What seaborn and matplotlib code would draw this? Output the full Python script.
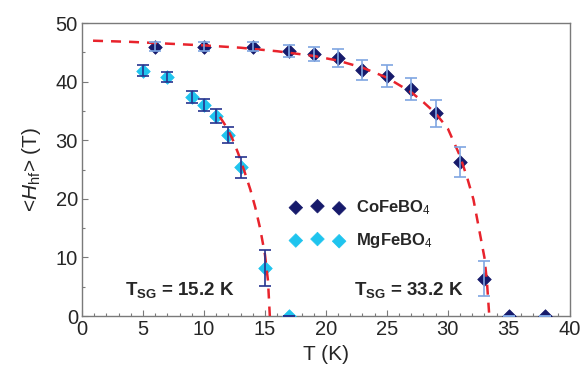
import matplotlib
matplotlib.use("Agg")
import matplotlib.pyplot as plt
from matplotlib.ticker import MultipleLocator
import seaborn as sns
import pandas as pd

# ---- data ----
co_T = [6, 10, 14, 17, 19, 21, 23, 25, 27, 29, 31, 33, 35, 38]
co_H = [46.0, 46.0, 46.0, 45.2, 44.8, 44.0, 42.0, 41.0, 38.7, 34.6, 26.3, 6.4, 0.0, 0.0]
co_err = [0.8, 0.8, 0.8, 1.0, 1.2, 1.5, 1.7, 1.9, 1.9, 2.3, 2.5, 3.0, 0.0, 0.0]

mg_T = [5, 7, 9, 10, 11, 12, 13, 15, 17]
mg_H = [41.9, 40.8, 37.4, 36.0, 34.1, 30.9, 25.4, 8.2, 0.0]
mg_err = [0.9, 0.9, 1.0, 1.0, 1.2, 1.3, 1.8, 3.1, 0.0]

co_fit_T = [0.9, 4, 7, 10, 13, 16, 19, 21, 23, 25, 27, 28, 29, 30, 31, 31.6, 32.1, 32.5, 33.0, 33.2, 33.4]
co_fit_H = [47.0, 46.8, 46.5, 46.2, 45.8, 45.2, 44.4, 43.6, 42.4, 40.7, 38.2, 36.5, 34.6, 32.0, 27.3, 23.5, 19.9, 15.5, 10.0, 6.0, 0.0]

mg_fit_T = [11.3, 11.8, 12.3, 12.8, 13.3, 13.8, 14.2, 14.6, 15.0, 15.25, 15.4]
mg_fit_H = [34.0, 32.4, 30.4, 27.8, 24.8, 21.6, 18.6, 15.0, 10.5, 6.0, 0.0]

labels = ["CoFeBO$_4$", "MgFeBO$_4$"]
tsg_labels = ["T$_{\\mathbf{SG}}$ = 15.2 K", "T$_{\\mathbf{SG}}$ = 33.2 K"]

# ---- styling ----
sns.set_style("white")
plt.rcParams['font.family'] = ['Liberation Sans', 'DejaVu Sans']
plt.rcParams['mathtext.fontset'] = 'custom'
plt.rcParams['mathtext.rm'] = 'Liberation Sans'
plt.rcParams['mathtext.it'] = 'Liberation Sans:italic'
plt.rcParams['mathtext.bf'] = 'Liberation Sans:bold'

navy = "#161a6b"
cyan = "#1fc4ee"
light_err = "#7fa6e2"
dark_err = "#26338f"
red = "#e8232c"
spine_c = "#7a7a7a"

fig = plt.figure(figsize=(5.82, 3.79), dpi=100)
ax = fig.add_axes([0.141, 0.166, 0.838, 0.773])

co_df = pd.DataFrame({"T": co_T, "H": co_H})
mg_df = pd.DataFrame({"T": mg_T, "H": mg_H})
cofit = pd.DataFrame({"T": co_fit_T, "H": co_fit_H})
mgfit = pd.DataFrame({"T": mg_fit_T, "H": mg_fit_H})

sns.scatterplot(data=co_df, x="T", y="H", marker="D", s=48, color=navy,
                edgecolor=navy, linewidth=0.5, ax=ax, label=labels[0], zorder=3)
sns.scatterplot(data=mg_df, x="T", y="H", marker="D", s=48, color=cyan,
                edgecolor=cyan, linewidth=0.5, ax=ax, label=labels[1], zorder=3)

sns.lineplot(data=cofit, x="T", y="H", color=red, linestyle=(0, (4, 3.2)),
             linewidth=1.8, ax=ax, sort=False, zorder=4, legend=False)
sns.lineplot(data=mgfit, x="T", y="H", color=red, linestyle=(0, (4, 3.2)),
             linewidth=1.8, ax=ax, sort=False, zorder=4, legend=False)

ax.errorbar(co_T, co_H, yerr=co_err, fmt="none", ecolor=light_err,
            elinewidth=1.2, capsize=4, capthick=1.2, zorder=5)
ax.errorbar(mg_T, mg_H, yerr=mg_err, fmt="none", ecolor=dark_err,
            elinewidth=1.2, capsize=4, capthick=1.2, zorder=5)

ax.set_xlim(0, 40)
ax.set_ylim(0, 50)
ax.xaxis.set_major_locator(MultipleLocator(5))
ax.xaxis.set_minor_locator(MultipleLocator(1))
ax.yaxis.set_major_locator(MultipleLocator(10))
ax.yaxis.set_minor_locator(MultipleLocator(5))
ax.tick_params(which="both", direction="in", bottom=True, left=True,
               top=False, right=False, color=spine_c)
ax.tick_params(which="major", length=4, width=0.8, labelsize=14.5, pad=3)
ax.tick_params(which="minor", length=2.5, width=0.8)
for s in ax.spines.values():
    s.set_color(spine_c)
    s.set_linewidth(1.0)
    s.set_visible(True)

ax.set_xlabel("T (K)", fontsize=15, labelpad=4)
ax.set_ylabel(r"<$\mathit{H}_{\mathrm{hf}}$> (T)", fontsize=15, labelpad=9)

leg = ax.legend(loc="upper left", bbox_to_anchor=(0.428, 0.403), frameon=False,
                scatterpoints=3, handlelength=3.2, handletextpad=0.7,
                labelspacing=0.85, borderpad=0, borderaxespad=0,
                prop={"weight": "bold", "size": 12})

ax.text(3.5, 4.4, tsg_labels[0], fontsize=13.5, fontweight="bold", va="center")
ax.text(22.3, 4.4, tsg_labels[1], fontsize=13.5, fontweight="bold", va="center")

fig.savefig("out.png", dpi=100)
